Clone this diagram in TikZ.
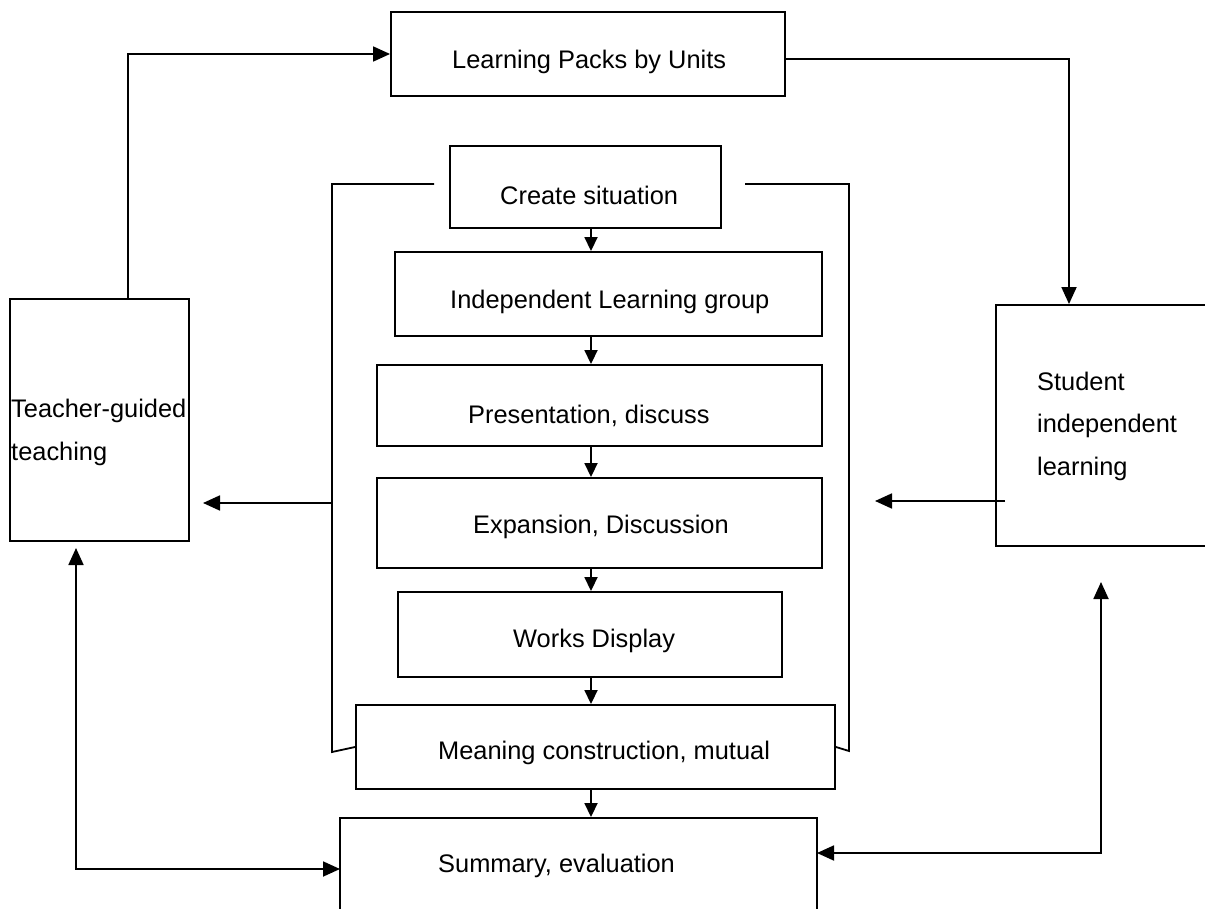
\documentclass[tikz,border=0pt]{standalone}
\usepackage{fontspec}
\setmainfont{Liberation Sans}
\usetikzlibrary{arrows.meta}
\begin{document}
\begin{tikzpicture}[x=1pt,y=-1pt,
  box/.style={draw,line width=1.9pt,inner sep=0pt,minimum width=#1},
  lbl/.style={anchor=base west,inner sep=0pt,font=\fontsize{25.4}{30}\selectfont},
  conn/.style={line width=1.8pt},
  arr/.style={line width=1.8pt,-{Triangle[length=17pt,width=15pt]}},
  sarr/.style={line width=1.8pt,-{Triangle[length=14pt,width=13pt]}},
  darr/.style={line width=1.8pt,{Triangle[length=17pt,width=15pt]}-{Triangle[length=17pt,width=15pt]}}]
\clip (0,0) rectangle (1205,909);
\fill[white] (0,0) rectangle (1205,909);
% boxes
\node[box=394pt,minimum height=84pt] (lp) at (588,54) {};
\node[box=271pt,minimum height=82pt] (cs) at (585.5,187) {};
\node[box=427pt,minimum height=84pt] (il) at (608.5,294) {};
\node[box=445pt,minimum height=81pt] (pd) at (599.5,405.5) {};
\node[box=445pt,minimum height=90pt] (ed) at (599.5,523) {};
\node[box=384pt,minimum height=85pt] (wd) at (590,634.5) {};
\node[box=479pt,minimum height=84pt] (mc) at (595.5,747) {};
\node[box=477pt,minimum height=97pt] (se) at (578.5,866.5) {};
\node[box=179pt,minimum height=242pt] (tg) at (99.5,420) {};
\node[box=216pt,minimum height=241pt] (si) at (1104,425.5) {};
% texts
\node[lbl] (tlp) at (452,69) {Learning Packs by Units};
\node[lbl] (tcs) at (500,205) {Create situation};
\node[lbl] (til) at (450,309) {Independent Learning group};
\node[lbl] (tpd) at (468,423) {Presentation, discuss};
\node[lbl] (ted) at (473,533) {Expansion, Discussion};
\node[lbl] (twd) at (513,647) {Works Display};
\node[lbl] (tmc) at (438,759) {Meaning construction, mutual};
\node[lbl] (tse) at (438,872) {Summary, evaluation};
\node[lbl] (ttg1) at (11,417) {Teacher-guided};
\node[lbl] (ttg2) at (11,460) {teaching};
\node[lbl] (tsi1) at (1037,390) {Student};
\node[lbl] (tsi2) at (1037,432) {independent};
\node[lbl] (tsi3) at (1037,475) {learning};
% coordinates
\coordinate (mx) at (591,0);
\coordinate (tgx) at (128,0);
\coordinate (sx) at (1069,0);
\coordinate (lpr) at (785,59);
\coordinate (bl1) at (434,184);
\coordinate (bl2) at (332,184);
\coordinate (bl3) at (332,752);
\coordinate (br1) at (745,184);
\coordinate (br2) at (849,184);
\coordinate (br3) at (849,751);
\coordinate (lj) at (332,503);
\coordinate (lt) at (203,503);
\coordinate (rs) at (1005,501);
\coordinate (rt) at (875,501);
\coordinate (tgb) at (76,548);
\coordinate (lc) at (76,869);
\coordinate (sel) at (340,869);
\coordinate (sib) at (1101,582);
\coordinate (rc) at (1101,853);
\coordinate (ser) at (817,853);
% middle chain
\draw[sarr] (cs.south -| mx) -- (il.north -| mx);
\draw[sarr] (il.south -| mx) -- (pd.north -| mx);
\draw[sarr] (pd.south -| mx) -- (ed.north -| mx);
\draw[sarr] (ed.south -| mx) -- (wd.north -| mx);
\draw[sarr] (wd.south -| mx) -- (mc.north -| mx);
\draw[sarr] (mc.south -| mx) -- (se.north -| mx);
% brackets
\draw[conn] (bl1) -- (bl2) -- (bl3) -- (mc.west);
\draw[conn] (br1) -- (br2) -- (br3) -- (mc.east);
% side arrows
\draw[arr] (lj) -- (lt);
\draw[arr] (rs) -- (rt);
% top loop
\draw[arr] (tg.north -| tgx) |- (lp.west);
\draw[arr] (lpr) -| (si.north -| sx);
% bottom loops
\draw[darr] (tgb) -- (lc) -- (sel);
\draw[darr] (sib) -- (rc) -- (ser);
\end{tikzpicture}
\end{document}
